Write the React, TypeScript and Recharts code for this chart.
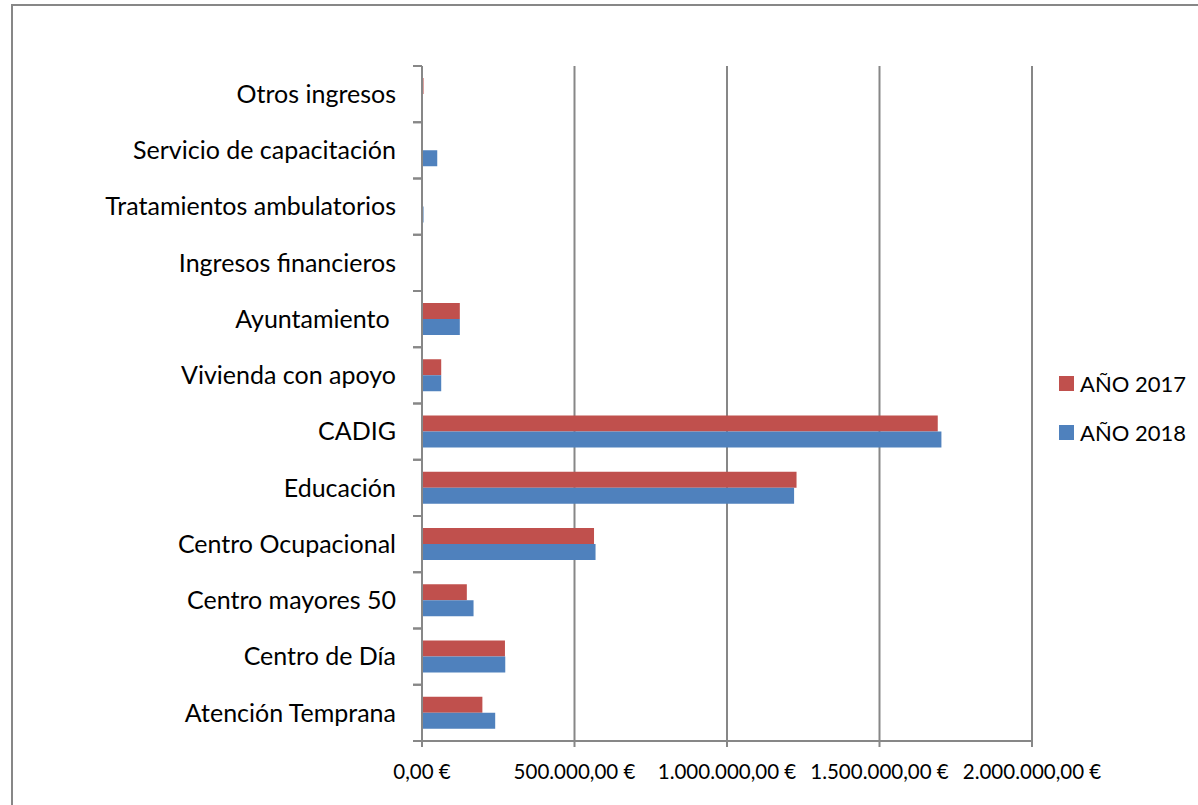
import { BarChart, Bar, XAxis, YAxis, CartesianGrid } from 'recharts';

const categories = [
  'Otros ingresos',
  'Servicio de capacitación',
  'Tratamientos ambulatorios',
  'Ingresos financieros',
  'Ayuntamiento ',
  'Vivienda con apoyo',
  'CADIG',
  'Educación',
  'Centro Ocupacional',
  'Centro mayores 50',
  'Centro de Día',
  'Atención Temprana',
];
const values2017 = [5000, 0, 0, 0, 124000, 63000, 1691000, 1228000, 564000, 147000, 272000, 198000];
const values2018 = [0, 50000, 5000, 0, 124000, 63000, 1703000, 1220000, 569000, 169000, 273000, 240000];
const xTicks = [0, 500000, 1000000, 1500000, 2000000];
const series = [
  { key: 'y2017', name: 'AÑO 2017', color: '#C0504D' },
  { key: 'y2018', name: 'AÑO 2018', color: '#4F81BD' },
];

const data = categories.map((name, i) => ({
  name,
  y2017: values2017[i],
  y2018: values2018[i],
}));

const FONT = 'Lato, "Open Sans", sans-serif';
const GRID = '#878787';
const PLOT_TOP = 66;
const PLOT_BOTTOM = 741;
const AXIS_X = 422;
const BAND = (PLOT_BOTTOM - PLOT_TOP) / categories.length;

const formatEuro = (v: number) => {
  const s = Math.round(v).toString().replace(/\B(?=(\d{3})+(?!\d))/g, '.');
  return `${s},00 €`;
};

const CategoryTick = (props: any) => {
  const { y, payload } = props;
  return (
    <g>
      <line x1={AXIS_X - 9} x2={AXIS_X} y1={y - BAND / 2} y2={y - BAND / 2} stroke={GRID} strokeWidth={2} />
      <line x1={AXIS_X - 9} x2={AXIS_X} y1={y + BAND / 2} y2={y + BAND / 2} stroke={GRID} strokeWidth={2} />
      <text
        x={AXIS_X - 26}
        y={y}
        dy="0.35em"
        textAnchor="end"
        fill="#000"
        style={{ fontFamily: FONT, fontSize: 25, whiteSpace: 'pre' }}
      >
        {payload.value}
      </text>
    </g>
  );
};

export default function App() {
  return (
    <div style={{ position: 'absolute', left: 0, top: 0, width: 1198, height: 805, background: '#fff', overflow: 'hidden' }}>
      <div
        style={{
          position: 'absolute',
          left: 11,
          top: 4,
          width: 1200,
          height: 810,
          borderLeft: `2px solid ${GRID}`,
          borderTop: `2px solid ${GRID}`,
        }}
      />
      <BarChart
        width={1198}
        height={805}
        data={data}
        layout="vertical"
        margin={{ top: PLOT_TOP, right: 166, bottom: 805 - PLOT_BOTTOM - 50, left: 0 }}
        barSize={16}
        barGap={0}
      >
        <CartesianGrid vertical horizontal={false} stroke={GRID} strokeWidth={2} />
        <XAxis
          type="number"
          domain={[0, 2000000]}
          ticks={xTicks}
          tickFormatter={formatEuro}
          height={50}
          axisLine={{ stroke: GRID, strokeWidth: 2 }}
          tickLine={{ stroke: GRID, strokeWidth: 2 }}
          tickSize={6}
          tickMargin={17}
          tick={{ fill: '#000', fontSize: 20.5, fontFamily: FONT }}
          interval={0}
        />
        <YAxis
          type="category"
          dataKey="name"
          width={AXIS_X}
          axisLine={{ stroke: GRID, strokeWidth: 2 }}
          tickLine={false}
          tick={<CategoryTick />}
          interval={0}
        />
        {series.map((s) => (
          <Bar key={s.key} dataKey={s.key} name={s.name} fill={s.color} isAnimationActive={false} />
        ))}
      </BarChart>
      <div style={{ position: 'absolute', left: 1059, top: 359, fontFamily: FONT, fontSize: 22, color: '#000' }}>
        {series.map((s) => (
          <div key={s.key} style={{ display: 'flex', alignItems: 'center', height: 49 }}>
            <span style={{ width: 15, height: 15, background: s.color, marginRight: 6, display: 'inline-block' }} />
            <span>{s.name}</span>
          </div>
        ))}
      </div>
    </div>
  );
}
